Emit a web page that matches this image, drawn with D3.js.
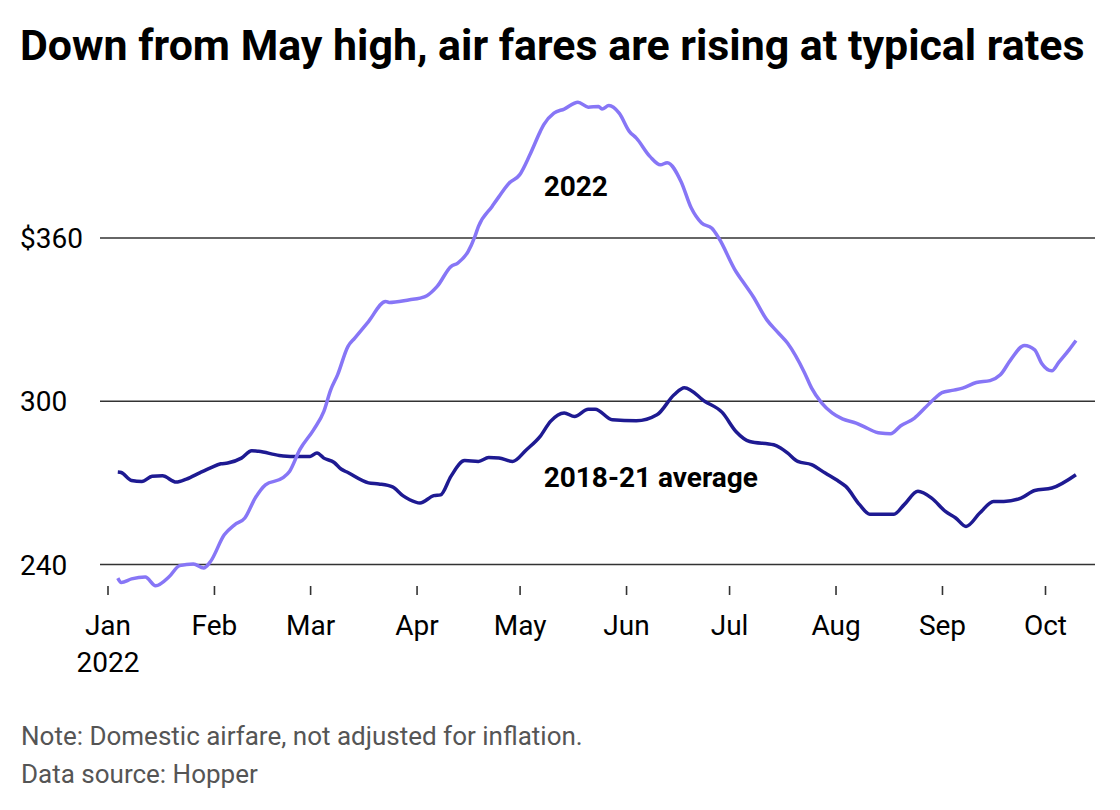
<!DOCTYPE html>
<html>
<head>
<meta charset="utf-8">
<script src="https://cdn.jsdelivr.net/npm/d3@7"></script>
<style>
	body { margin: 0; background: #ffffff; }
	svg { display: block; font-family: Roboto, "Noto Sans", sans-serif; }
</style>
</head>
<body>
<div id="chart"></div>
<script>
{
const svg_dimensions = {
	height: 810,
	width: 1120,
};
const plot = {
	left: 107.5,
	right: 1045,
	top: 238,
	bottom: 564.5,
	grid_left: 100,
	grid_right: 1095,
	axis_y: 586,
};

const title_text = "Down from May high, air fares are rising at typical rates";
const note_lines = [
	"Note: Domestic airfare, not adjusted for inflation.",
	"Data source: Hopper",
];

// y-axis
const y_ticks = [240, 300, 360];
const y_tick_labels = ["240", "300", "$360"];

// x-axis
const month_ticks = ["2022-01-01", "2022-02-01", "2022-03-01", "2022-04-01", "2022-05-01",
	"2022-06-01", "2022-07-01", "2022-08-01", "2022-09-01", "2022-10-01"];
const month_labels = ["Jan", "Feb", "Mar", "Apr", "May", "Jun", "Jul", "Aug", "Sep", "Oct"];

// Average domestic fare, 2022
const fares_2022 = [
	["2022-01-04", 235.0], ["2022-01-05", 233.4], ["2022-01-08", 234.7], ["2022-01-12", 235.4],
	["2022-01-15", 232.2], ["2022-01-19", 235.6], ["2022-01-22", 239.6], ["2022-01-26", 240.2],
	["2022-01-29", 238.7], ["2022-01-31", 241.1], ["2022-02-04", 250.9], ["2022-02-07", 254.6],
	["2022-02-10", 257.1], ["2022-02-13", 264.4], ["2022-02-16", 269.3], ["2022-02-21", 271.8],
	["2022-02-23", 274.2], ["2022-02-26", 282.2], ["2022-03-02", 289.5], ["2022-03-05", 296.3],
	["2022-03-07", 304.2], ["2022-03-09", 309.7], ["2022-03-12", 320.1], ["2022-03-14", 323.2],
	["2022-03-18", 329.3], ["2022-03-23", 336.7], ["2022-03-24", 336.3], ["2022-03-30", 337.3],
	["2022-04-02", 337.9], ["2022-04-04", 338.8], ["2022-04-07", 342.2], ["2022-04-11", 349.5],
	["2022-04-13", 350.8], ["2022-04-16", 355.0], ["2022-04-18", 360.6], ["2022-04-19", 364.2],
	["2022-04-23", 371.6], ["2022-04-25", 375.2], ["2022-04-28", 380.2], ["2022-05-01", 383.2],
	["2022-05-04", 390.6], ["2022-05-07", 399.1], ["2022-05-08", 401.6], ["2022-05-11", 405.9],
	["2022-05-14", 407.4], ["2022-05-18", 409.9], ["2022-05-21", 408.1], ["2022-05-24", 408.3],
	["2022-05-25", 407.4], ["2022-05-27", 408.7], ["2022-05-30", 405.9], ["2022-06-02", 399.1],
	["2022-06-04", 396.7], ["2022-06-08", 389.9], ["2022-06-11", 386.9], ["2022-06-13", 387.7],
	["2022-06-17", 380.8], ["2022-06-20", 371.0], ["2022-06-23", 365.5], ["2022-06-26", 363.6],
	["2022-06-28", 360.0], ["2022-07-03", 347.7], ["2022-07-05", 344.0], ["2022-07-08", 338.5],
	["2022-07-12", 329.9], ["2022-07-15", 325.6], ["2022-07-18", 321.4], ["2022-07-23", 310.4],
	["2022-07-25", 304.9], ["2022-07-28", 299.3], ["2022-07-31", 295.7], ["2022-08-03", 293.5],
	["2022-08-07", 292.0], ["2022-08-10", 290.2], ["2022-08-14", 288.3], ["2022-08-17", 288.1],
	["2022-08-20", 291.0], ["2022-08-24", 293.8], ["2022-08-27", 297.5], ["2022-08-30", 301.2],
	["2022-09-01", 303.2], ["2022-09-04", 304.0], ["2022-09-07", 304.8], ["2022-09-11", 306.9],
	["2022-09-15", 307.6], ["2022-09-18", 309.7], ["2022-09-21", 315.2], ["2022-09-25", 320.5],
	["2022-09-28", 318.9], ["2022-09-30", 314.0], ["2022-10-03", 311.2], ["2022-10-05", 314.3],
	["2022-10-08", 318.9], ["2022-10-10", 322.3],
];

// Average domestic fare, 2018-21 average
const fares_average = [
	["2022-01-04", 274.0], ["2022-01-05", 273.8], ["2022-01-08", 270.9], ["2022-01-11", 270.5],
	["2022-01-14", 272.4], ["2022-01-17", 272.6], ["2022-01-21", 270.3], ["2022-01-24", 271.4],
	["2022-01-28", 273.8], ["2022-01-31", 275.5], ["2022-02-03", 277.0], ["2022-02-05", 277.3],
	["2022-02-09", 279.1], ["2022-02-12", 281.8], ["2022-02-14", 281.6], ["2022-02-20", 280.1],
	["2022-02-24", 279.7], ["2022-03-01", 279.7], ["2022-03-03", 281.0], ["2022-03-05", 279.1],
	["2022-03-08", 277.5], ["2022-03-10", 275.1], ["2022-03-12", 273.8], ["2022-03-18", 270.0],
	["2022-03-21", 269.6], ["2022-03-25", 268.5], ["2022-03-28", 265.3], ["2022-03-30", 263.8],
	["2022-04-02", 262.6], ["2022-04-06", 265.3], ["2022-04-08", 265.6], ["2022-04-11", 272.4],
	["2022-04-15", 278.2], ["2022-04-19", 277.9], ["2022-04-22", 279.3], ["2022-04-25", 279.1],
	["2022-04-29", 277.9], ["2022-05-03", 282.2], ["2022-05-07", 287.1], ["2022-05-10", 292.6],
	["2022-05-14", 295.7], ["2022-05-17", 294.4], ["2022-05-21", 297.1], ["2022-05-23", 297.1],
	["2022-05-28", 293.2], ["2022-06-04", 292.8], ["2022-06-10", 295.0], ["2022-06-15", 302.4],
	["2022-06-18", 305.0], ["2022-06-24", 299.9], ["2022-06-29", 295.9], ["2022-07-03", 288.9],
	["2022-07-07", 285.2], ["2022-07-14", 284.0], ["2022-07-16", 282.8], ["2022-07-18", 281.0],
	["2022-07-21", 277.9], ["2022-07-25", 276.7], ["2022-07-29", 273.6], ["2022-08-02", 270.5],
	["2022-08-04", 268.7], ["2022-08-08", 262.0], ["2022-08-11", 258.5], ["2022-08-18", 258.5],
	["2022-08-21", 262.0], ["2022-08-25", 266.9], ["2022-08-29", 264.4], ["2022-09-02", 259.5],
	["2022-09-05", 257.1], ["2022-09-08", 254.0], ["2022-09-12", 258.9], ["2022-09-16", 263.2],
	["2022-09-19", 263.2], ["2022-09-24", 264.4], ["2022-09-28", 267.2], ["2022-10-03", 268.1],
	["2022-10-10", 273.0],
];

// Labels placed next to the lines, in data coordinates
const series_labels = [
	{text: "2022", date: "2022-05-08", value: 375.5},
	{text: "2018-21 average", date: "2022-05-08", value: 268.6},
];

const color_2022 = "#8776f6";
const color_average = "#1e1a92";
const grid_color = "#333333";

const parse_date = d3.timeParse("%Y-%m-%d");

const svg = d3.select("#chart")
	.append("svg")
		.attr("width", svg_dimensions.width)
		.attr("height", svg_dimensions.height);

const x = d3.scaleTime()
	.domain([parse_date(month_ticks[0]), parse_date(month_ticks[month_ticks.length - 1])])
	.range([plot.left, plot.right]);
const y = d3.scaleLinear()
	.domain([y_ticks[0], y_ticks[y_ticks.length - 1]])
	.range([plot.bottom, plot.top]);

// title, shrunk or grown to fill the same width as the original
const title = svg.append("text")
	.attr("x", 20)
	.attr("y", 60)
	.attr("font-size", 40)
	.attr("font-weight", 700)
	.attr("fill", "#000000")
	.text(title_text);
const title_width = title.node().getComputedTextLength();
title.attr("font-size", 40 * 1065 / title_width);

// grid lines and y labels
svg.append("g")
	.selectAll("line")
	.data(y_ticks)
	.join("line")
		.attr("x1", plot.grid_left)
		.attr("x2", plot.grid_right)
		.attr("y1", d => y(d))
		.attr("y2", d => y(d))
		.attr("stroke", grid_color)
		.attr("stroke-width", 1.6);
svg.append("g")
	.selectAll("text")
	.data(y_ticks)
	.join("text")
		.attr("x", 20)
		.attr("y", d => y(d) + 10)
		.attr("font-size", 28)
		.attr("fill", "#000000")
		.text((d, i) => y_tick_labels[i]);

// x-axis
const x_axis = svg.append("g")
	.attr("transform", "translate(0," + plot.axis_y + ")")
	.call(d3.axisBottom(x)
		.tickValues(month_ticks.map(parse_date))
		.tickSize(9)
		.tickPadding(20)
		.tickFormat((d, i) => month_labels[i]));
x_axis.select(".domain").remove();
x_axis.selectAll(".tick line")
	.attr("stroke", grid_color)
	.attr("stroke-width", 1.6);
x_axis.selectAll(".tick text")
	.attr("font-family", "Roboto, sans-serif")
	.attr("font-size", 28)
	.attr("fill", "#000000");
x_axis.select(".tick text")
	.append("tspan")
		.attr("x", 0)
		.attr("dy", 37)
		.text("2022");

// lines
const line = d3.line()
	.x(d => x(parse_date(d[0])))
	.y(d => y(d[1]))
	.curve(d3.curveMonotoneX);
svg.append("path")
	.datum(fares_average)
	.attr("d", line)
	.attr("fill", "none")
	.attr("stroke", color_average)
	.attr("stroke-width", 3.5)
	.attr("stroke-linejoin", "round");
svg.append("path")
	.datum(fares_2022)
	.attr("d", line)
	.attr("fill", "none")
	.attr("stroke", color_2022)
	.attr("stroke-width", 3.5)
	.attr("stroke-linejoin", "round");

// series labels
svg.append("g")
	.selectAll("text")
	.data(series_labels)
	.join("text")
		.attr("x", d => x(parse_date(d.date)))
		.attr("y", d => y(d.value))
		.attr("font-size", 28)
		.attr("font-weight", 700)
		.attr("fill", "#000000")
		.text(d => d.text);

// notes
svg.append("g")
	.selectAll("text")
	.data(note_lines)
	.join("text")
		.attr("x", 21)
		.attr("y", (d, i) => 745 + i * 38)
		.attr("font-size", 26)
		.attr("fill", "#555555")
		.text(d => d);
}
</script>
</body>
</html>
